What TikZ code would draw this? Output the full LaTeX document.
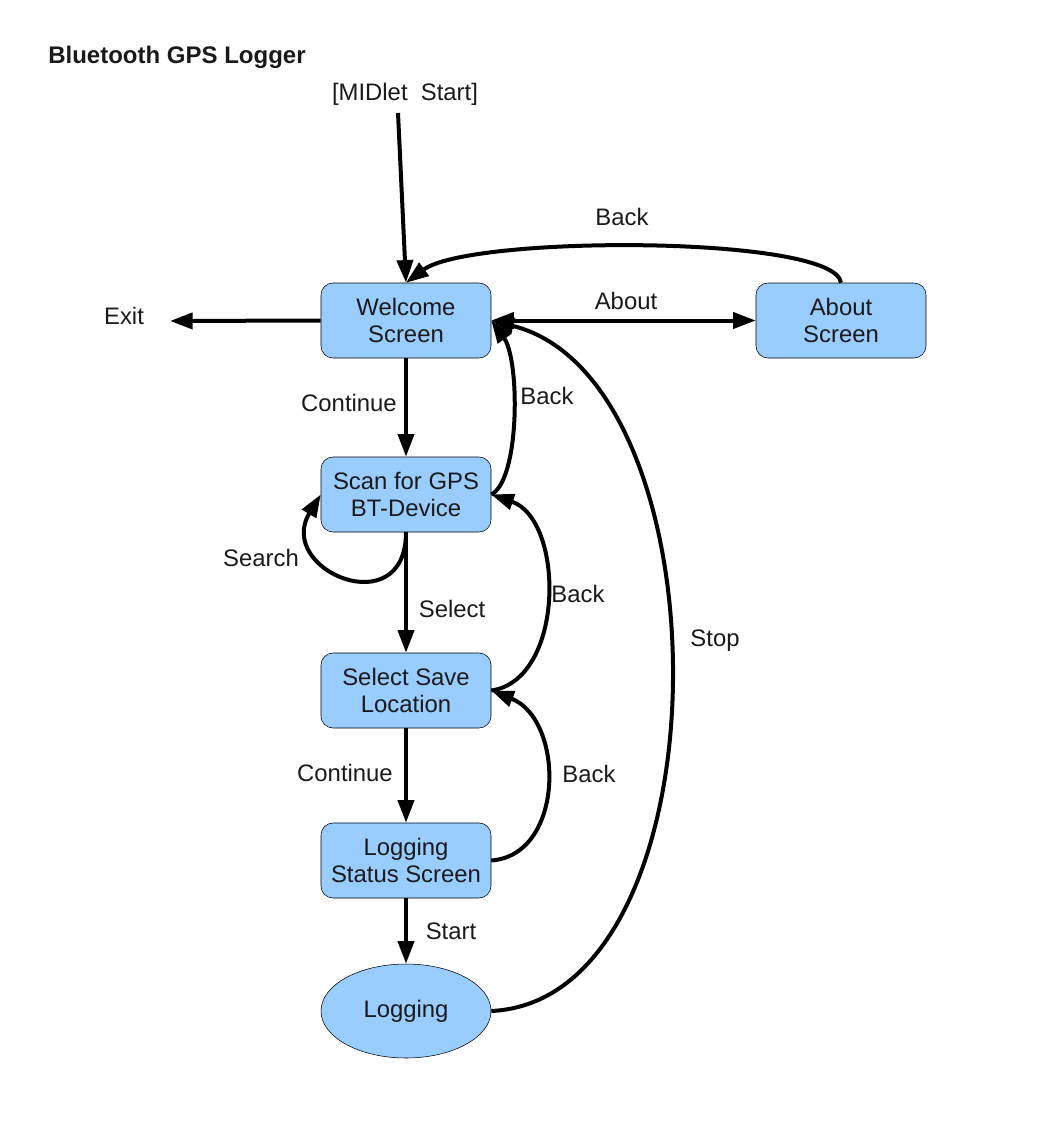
\documentclass[tikz,border=0pt]{standalone}
\usepackage{fontspec}
\setmainfont{Liberation Sans}
\usetikzlibrary{arrows.meta}
\usetikzlibrary{positioning}
\usetikzlibrary{shapes.geometric}

\definecolor{boxblue}{HTML}{99CCFF}
\definecolor{ink}{HTML}{1A1A1A}

\begin{document}
\begin{tikzpicture}[
	x = 0.75pt, y = -0.75pt,
	font = \fontsize{17.9pt}{20pt}\selectfont,
	every node/.style = {text = ink},
	screen/.style = {
	  draw, thin, fill = boxblue, rounded corners = 9pt,
	  minimum width = 127.5pt, minimum height = 56.25pt,
	  align = center, inner sep = 0pt,
	},
	state/.style = {
	  draw, thin, fill = boxblue, ellipse,
	  minimum width = 127.5pt, minimum height = 70.5pt,
	  inner sep = 0pt,
	},
	lbl/.style = {inner sep = 0pt},
	trans/.style = {
	  line width = 3pt, black,
	  -{Triangle[length = 17pt, width = 12pt]},
	},
  ]
  \useasboundingbox (0,0) rectangle (1036,1123);

  \node[lbl, anchor = west, font = \fontsize{18pt}{20pt}\selectfont\bfseries]
	(title) at (48, 57) {Bluetooth GPS Logger};
  \node[lbl] (midlet) at (405, 94) {[MIDlet\ \ Start]};
  \coordinate (entry) at (398, 113);
  \node[lbl] (exit) at (124, 316) {Exit};
  \coordinate (exitpt) at (170, 321);

  % screens
  \node[screen] (welcome) at (406, 320.5) {Welcome\\Screen};
  \node[screen] (about)   at (841, 320.5) {About\\Screen};
  \node[screen] (scan)    at (406, 494.5) {Scan for GPS\\BT-Device};
  \node[screen] (save)    at (406, 690.5) {Select Save\\Location};
  \node[screen] (status)  at (406, 860.5) {Logging\\Status Screen};
  \node[state]  (logging) at (406, 1011)  {Logging};

  % transitions
  \draw[trans] (entry) -- (welcome.north);
  \draw[trans] (welcome.west) -- (exitpt);
  \draw[trans, {Triangle[length = 17pt, width = 12pt]}-{Triangle[length = 17pt, width = 12pt]}]
	(welcome.east) -- (about.west);
  \draw[trans] (about.north) .. controls (835, 235) and (470, 235) .. (welcome.north);
  \draw[trans] (welcome.south) -- (scan.north);
  \draw[trans] (scan.east) .. controls (520, 480) and (520, 360) .. (welcome.east);
  \draw[trans] (scan.south) .. controls (406, 625) and (275, 570) .. (scan.west);
  \draw[trans] (scan.south) -- (save.north);
  \draw[trans] (save.east) .. controls (565, 680) and (565, 520) .. (scan.east);
  \draw[trans] (save.south) -- (status.north);
  \draw[trans] (status.east) .. controls (565, 855) and (565, 720) .. (save.east);
  \draw[trans] (status.south) -- (logging.north);
  \draw[trans] (logging.east) .. controls (730, 1000) and (730, 380) .. (welcome.east);

  % transition labels
  \node[lbl] (lbackabout) at (622, 217) {Back};
  \node[lbl] (labout)     at (626, 301) {About};
  \node[lbl] (lcont1)     at (349, 403) {Continue};
  \node[lbl] (lbackscan)  at (547, 396) {Back};
  \node[lbl] (lsearch)    at (261, 558) {Search};
  \node[lbl] (lselect)    at (452, 609) {Select};
  \node[lbl] (lbacksave)  at (578, 594) {Back};
  \node[lbl] (lstop)      at (715, 641) {Stop};
  \node[lbl] (lcont2)     at (345, 773) {Continue};
  \node[lbl] (lbackstat)  at (589, 774) {Back};
  \node[lbl] (lstart)     at (451, 931) {Start};
\end{tikzpicture}
\end{document}
